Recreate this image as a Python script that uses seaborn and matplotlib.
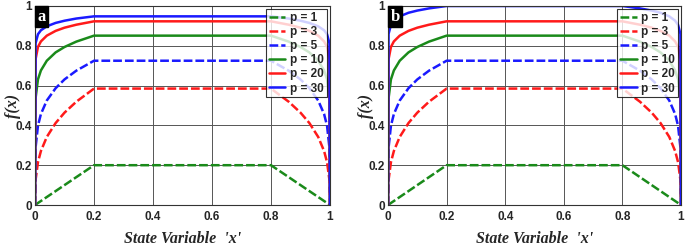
import matplotlib
matplotlib.use("Agg")
import matplotlib.pyplot as plt
import seaborn as sns
import pandas as pd

# x positions on the rising part (0 .. 0.2); falling part is the mirror image
x_rise = [0.0, 0.002, 0.01, 0.02, 0.04, 0.07, 0.1, 0.14, 0.2]

p_labels = ["p = 1", "p = 3", "p = 5", "p = 10", "p = 20", "p = 30"]
colors = ["#1a8a1a", "#ff1a1a", "#1a1aff", "#1a8a1a", "#ff1a1a", "#1a1aff"]
dashed = [True, True, True, False, False, False]

# panel a: f(x) at x_rise
a_p1 = [0.0, 0.002, 0.01, 0.02, 0.04, 0.07, 0.1, 0.14, 0.2]
a_p3 = [0.0, 0.126, 0.215, 0.271, 0.342, 0.412, 0.464, 0.519, 0.585]
a_p5 = [0.0, 0.289, 0.398, 0.457, 0.525, 0.587, 0.631, 0.675, 0.725]
a_p10 = [0.0, 0.537, 0.631, 0.676, 0.725, 0.767, 0.794, 0.821, 0.851]
a_p20 = [0.0, 0.733, 0.794, 0.822, 0.851, 0.875, 0.891, 0.906, 0.923]
a_p30 = [0.0, 0.813, 0.858, 0.878, 0.898, 0.915, 0.926, 0.937, 0.948]

# panel b
b_p1 = [0.0, 0.002, 0.01, 0.02, 0.04, 0.07, 0.1, 0.14, 0.2]
b_p3 = [0.0, 0.126, 0.215, 0.271, 0.342, 0.412, 0.464, 0.519, 0.585]
b_p5 = [0.0, 0.289, 0.398, 0.457, 0.525, 0.587, 0.631, 0.675, 0.725]
b_p10 = [0.0, 0.537, 0.631, 0.676, 0.725, 0.767, 0.794, 0.821, 0.851]
b_p20 = [0.0, 0.733, 0.794, 0.822, 0.851, 0.875, 0.891, 0.906, 0.923]
b_p30 = [0.0, 0.860, 0.905, 0.926, 0.948, 0.966, 0.977, 0.988, 1.0]

panels = {
    "a": [a_p1, a_p3, a_p5, a_p10, a_p20, a_p30],
    "b": [b_p1, b_p3, b_p5, b_p10, b_p20, b_p30],
}

sns.set_style("white")
plt.rcParams["font.family"] = ["Liberation Sans", "DejaVu Sans"]

fig = plt.figure(figsize=(6.85, 2.48), dpi=100)
boxes = {"a": [35 / 685, 43 / 248, 295 / 685, 199 / 248],
         "b": [388 / 685, 43 / 248, 293 / 685, 199 / 248]}

for name, series in panels.items():
    ax = fig.add_axes(boxes[name])
    for lab, ys, c, d in zip(p_labels, series, colors, dashed):
        xs = x_rise + [1 - v for v in reversed(x_rise)]
        yy = ys + list(reversed(ys))
        df = pd.DataFrame({"x": xs, "y": yy})
        ln = sns.lineplot(data=df, x="x", y="y", ax=ax, color=c,
                          linewidth=1.8, label=lab, sort=False,
                          estimator=None).get_lines()[-1]
        if d:
            ln.set_dashes((3.5, 1.2))
    ax.set_xlim(0, 1)
    ax.set_ylim(0, 1)
    ticks = [0, 0.2, 0.4, 0.6, 0.8, 1]
    tlabels = ["0", "0.2", "0.4", "0.6", "0.8", "1"]
    ax.set_xticks(ticks)
    ax.set_xticklabels(tlabels)
    ax.set_yticks(ticks)
    ax.set_yticklabels(tlabels)
    ax.tick_params(labelsize=8.5, length=0)
    ax.tick_params(axis="x", pad=4)
    ax.tick_params(axis="y", pad=2)
    for t in ax.get_xticklabels() + ax.get_yticklabels():
        t.set_fontweight("bold")
    ax.grid(True, color="#555555", linewidth=0.7)
    for s in ax.spines.values():
        s.set_color("#333333")
        s.set_linewidth(0.8)
    ax.set_xlabel("State Variable  'x'", family="Liberation Serif",
                  fontstyle="italic", fontweight="bold", fontsize=11.5, labelpad=6)
    ax.set_ylabel("f(x)", family="Liberation Serif", fontstyle="italic",
                  fontweight="bold", fontsize=11.5)
    ax.yaxis.set_label_coords(-0.047, 0.5)
    ax.text(0.008, 0.985, name, transform=ax.transAxes, ha="left", va="top",
            color="white", fontsize=12, fontweight="bold", family="Liberation Serif",
            bbox=dict(facecolor="black", edgecolor="black", boxstyle="square,pad=0.15"))
    leg = ax.legend(loc="upper right", fontsize=8.5, handlelength=1.4,
                    borderpad=0.25, labelspacing=0.18, handletextpad=0.4,
                    frameon=True, fancybox=False, borderaxespad=0.25)
    leg.get_frame().set_edgecolor("black")
    leg.get_frame().set_linewidth(0.8)
    for t in leg.get_texts():
        t.set_fontweight("bold")

fig.savefig("out.png", dpi=100)
